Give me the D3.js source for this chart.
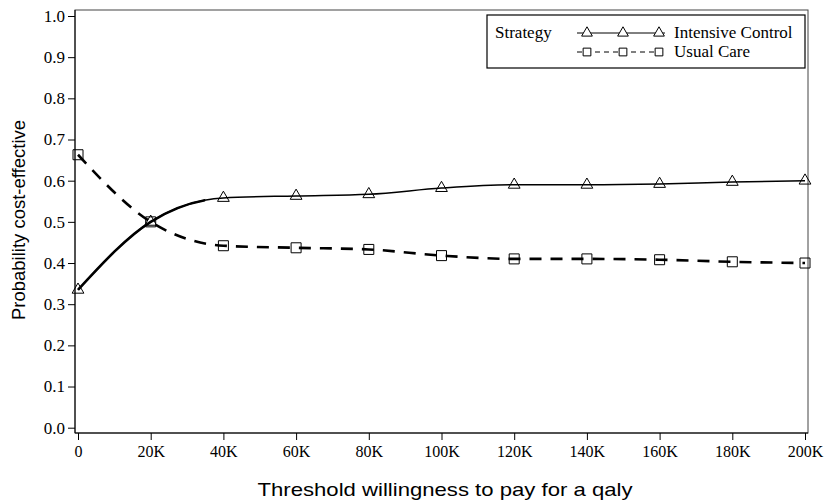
<!DOCTYPE html>
<html><head><meta charset="utf-8">
<script src="https://cdn.jsdelivr.net/npm/d3@7"></script>
<style>body{margin:0;background:#fff}svg{display:block}</style>
</head><body>
<svg id="c" width="825" height="503"></svg>
<script>
const thresholds = [0,20000,40000,60000,80000,100000,120000,140000,160000,180000,200000];
const intensive = [0.335,0.50,0.558,0.563,0.567,0.582,0.590,0.590,0.592,0.597,0.600];
const usual = [0.663,0.50,0.442,0.437,0.433,0.418,0.410,0.410,0.408,0.403,0.400];
const xTickVals = [0,20000,40000,60000,80000,100000,120000,140000,160000,180000,200000];
const xTickLabels = ["0","20K","40K","60K","80K","100K","120K","140K","160K","180K","200K"];
const yTickVals = [0,0.1,0.2,0.3,0.4,0.5,0.6,0.7,0.8,0.9,1.0];
const seriesNames = ["Intensive Control","Usual Care"];

const svg = d3.select("#c");
const L=75, R=808, T=10, B=433;
const x = d3.scaleLinear().domain([0,200000]).range([78,805]);
const y = d3.scaleLinear().domain([0,1]).range([427.7,16]);
const serif = "'Liberation Serif','Times New Roman',serif";
const sans = "'Liberation Sans',Arial,sans-serif";

// frame
svg.append("rect").attr("x",L).attr("y",T).attr("width",R-L).attr("height",B-T)
  .attr("fill","none").attr("stroke","#444").attr("stroke-width",1);
svg.append("line").attr("x1",L).attr("x2",L).attr("y1",T).attr("y2",B).attr("stroke","#000");
svg.append("line").attr("x1",L).attr("x2",R).attr("y1",B).attr("y2",B).attr("stroke","#000");

// y axis
const yAxis = d3.axisLeft(y).tickValues(yTickVals).tickFormat(d3.format(".1f")).tickSize(7).tickPadding(3);
const gy = svg.append("g").attr("transform",`translate(${L},0)`).call(yAxis);
gy.select(".domain").remove();
gy.selectAll("text").attr("font-family",serif).attr("font-size",17).attr("fill","#000");
gy.selectAll("line").attr("stroke","#000");

// x axis
const xAxis = d3.axisBottom(x).tickValues(xTickVals).tickFormat((d,i)=>xTickLabels[i]).tickSize(7).tickPadding(6);
const gx = svg.append("g").attr("transform",`translate(0,${B})`).call(xAxis);
gx.select(".domain").remove();
gx.selectAll("text").attr("font-family",serif).attr("font-size",16).attr("fill","#000");
gx.selectAll("line").attr("stroke","#000");

// titles
svg.append("text").attr("x",445).attr("y",496).attr("text-anchor","middle")
  .attr("font-family",sans).attr("font-size",19).attr("textLength",375).attr("lengthAdjust","spacingAndGlyphs")
  .text("Threshold willingness to pay for a qaly");
svg.append("text").attr("transform","translate(25,220) rotate(-90)").attr("text-anchor","middle")
  .attr("font-family",sans).attr("font-size",18.5).text("Probability cost-effective");

// lines
const line = d3.line().x((d,i)=>x(thresholds[i])).y(d=>y(d)).curve(d3.curveMonotoneX);
svg.append("defs").append("clipPath").attr("id","thick").append("rect")
  .attr("x",0).attr("y",0).attr("width",x(35000)).attr("height",503);
svg.append("path").datum(intensive).attr("d",line).attr("fill","none").attr("stroke","#000").attr("stroke-width",1.5);
svg.append("path").datum(intensive).attr("d",line).attr("fill","none").attr("stroke","#000").attr("stroke-width",2.6)
  .attr("clip-path","url(#thick)");
svg.append("path").datum(usual).attr("d",line).attr("fill","none").attr("stroke","#000")
  .attr("stroke-width",2.6).attr("stroke-dasharray","12,9");

const tri = d3.symbol().type(d3.symbolTriangle).size(60);
const sq = d3.symbol().type(d3.symbolSquare).size(100);
svg.append("g").selectAll("path").data(intensive).join("path")
  .attr("d",tri).attr("transform",(d,i)=>`translate(${x(thresholds[i])},${y(d)})`)
  .attr("fill","none").attr("stroke","#000").attr("stroke-width",1);
svg.append("g").selectAll("path").data(usual).join("path")
  .attr("d",sq).attr("transform",(d,i)=>`translate(${x(thresholds[i])},${y(d)})`)
  .attr("fill","none").attr("stroke","#000").attr("stroke-width",1);

// legend
const lg = svg.append("g");
lg.append("rect").attr("x",487).attr("y",15).attr("width",318).attr("height",53)
  .attr("fill","#fff").attr("stroke","#000").attr("stroke-width",1.2);
lg.append("text").attr("x",495).attr("y",38).attr("font-family",serif).attr("font-size",17).text("Strategy");
const rows = [{y:33, sym:tri, dash:null},{y:52, sym:sq, dash:"5,4"}];
rows.forEach((r,k)=>{
  lg.append("line").attr("x1",577).attr("x2",665).attr("y1",r.y).attr("y2",r.y)
    .attr("stroke","#000").attr("stroke-width",1).attr("stroke-dasharray",r.dash);
  [587,623,659].forEach(px=>{
    lg.append("path").attr("d",r.sym.size(k===0?50:60)()).attr("transform",`translate(${px},${r.y})`)
      .attr("fill","#fff").attr("stroke","#000").attr("stroke-width",1);
  });
  lg.append("text").attr("x",674).attr("y",r.y+5).attr("font-family",serif).attr("font-size",17).text(seriesNames[k]);
});
</script>
</body></html>
